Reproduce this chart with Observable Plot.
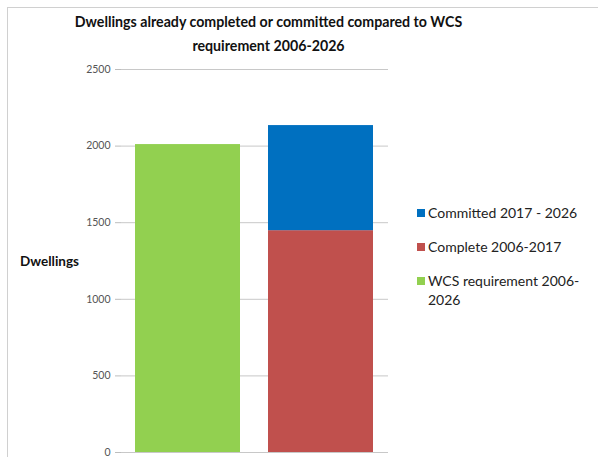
<!DOCTYPE html>
<html><head><meta charset="utf-8">
<script src="https://cdn.jsdelivr.net/npm/d3@7"></script>
<script src="https://cdn.jsdelivr.net/npm/@observablehq/plot@0.6"></script>
<style>
body{margin:0;background:#fff;}
#wrap{position:relative;width:598px;height:457px;overflow:hidden;font-family:Lato,"Open Sans",sans-serif;}
#frame{position:absolute;left:7px;top:7px;width:600px;height:460px;border-left:1.5px solid #d0d0d0;border-top:1.5px solid #d0d0d0;}
#title{position:absolute;left:0;top:10px;width:537px;text-align:center;font-weight:bold;font-size:14.2px;line-height:24px;color:#111;}
#ylab{position:absolute;left:20px;top:253px;font-weight:bold;font-size:13.5px;color:#111;}
#legend{position:absolute;left:417px;top:203px;font-size:14px;color:#222;line-height:19px;}
.li{position:relative;padding-left:11px;margin-bottom:15px;}
.sw{position:absolute;left:0;top:6px;width:8px;height:8px;}
svg{position:absolute;left:0;top:0;overflow:visible;}
</style></head><body>
<div id="wrap">
<div id="frame"></div>
<div id="chart"></div>
<div id="title">Dwellings already completed or committed compared to WCS<br>requirement 2006-2026</div>
<div id="ylab">Dwellings</div>
<div id="legend"></div>
</div>
<script>
const categories = ["Requirement", "Delivery"];
const series = ["WCS requirement 2006-2026", "Complete 2006-2017", "Committed 2017 - 2026"];
const seriesColors = ["#92d050", "#c0504d", "#0070c0"];
const requirement = [2010, 0];
const complete = [0, 1448];
const committed = [0, 686];
const yTicks = [0, 500, 1000, 1500, 2000, 2500];

const data = [];
categories.forEach((c, i) => {
  data.push({cat: c, series: series[0], value: requirement[i]});
  data.push({cat: c, series: series[1], value: complete[i]});
  data.push({cat: c, series: series[2], value: committed[i]});
});

const chart = Plot.plot({
  width: 598, height: 457,
  marginLeft: 121, marginRight: 210, marginTop: 69, marginBottom: 5,
  style: {background: "transparent", fontFamily: "Lato, sans-serif", overflow: "visible"},
  x: {domain: categories, padding: 0.21, paddingOuter: 0.105, axis: null},
  y: {domain: [0, 2500], ticks: yTicks, grid: false, label: null},
  color: {domain: series, range: seriesColors},
  marks: [
    Plot.ruleY(yTicks, {stroke: "#c8c8c8", strokeWidth: 1}),
    Plot.barY(data, {x: "cat", y: "value", fill: "series", order: series}),
    Plot.ruleX([0], {frameAnchor: "left", stroke: "#bdbdbd"}),
    Plot.axisY({ticks: yTicks, tickFormat: d3.format("d"), tickSize: 6, tickPadding: 5, stroke: "#bdbdbd", fontSize: 10.5, fill: "#555", label: null})
  ]
});
document.getElementById("chart").appendChild(chart);

const leg = document.getElementById("legend");
[2, 1, 0].forEach(i => {
  const d = document.createElement("div");
  d.className = "li";
  d.innerHTML = `<span class="sw" style="background:${seriesColors[i]}"></span>` +
    (i === 0 ? "WCS requirement 2006-<br>2026" : series[i]);
  leg.appendChild(d);
});
</script>
</body></html>
